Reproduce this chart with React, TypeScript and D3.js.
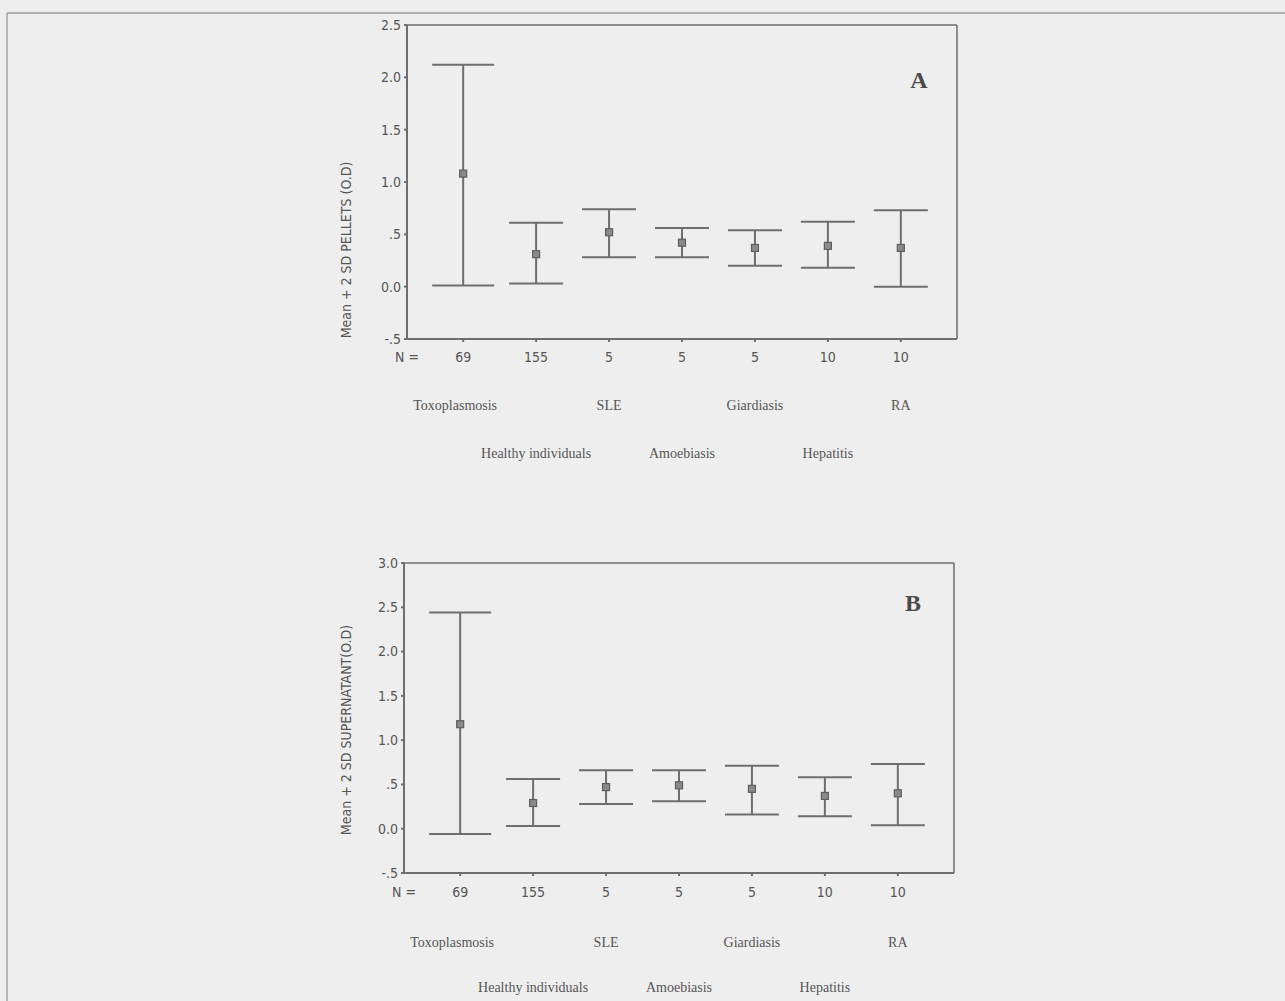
import React from "react";
import * as d3 from "d3";

const categories = ["Toxoplasmosis", "Healthy individuals", "SLE", "Amoebiasis", "Giardiasis", "Hepatitis", "RA"];
const nValues = ["69", "155", "5", "5", "5", "10", "10"];
const yTickValues = [-0.5, 0, 0.5, 1, 1.5, 2, 2.5];
const yTickLabels = ["-.5", "0.0", ".5", "1.0", "1.5", "2.0", "2.5"];
const yTickValuesB = [-0.5, 0, 0.5, 1, 1.5, 2, 2.5, 3];
const yTickLabelsB = ["-.5", "0.0", ".5", "1.0", "1.5", "2.0", "2.5", "3.0"];

// Panel A (pellets)
const meanA = [1.08, 0.31, 0.52, 0.42, 0.37, 0.39, 0.37];
const upperA = [2.12, 0.61, 0.74, 0.56, 0.54, 0.62, 0.73];
const lowerA = [0.01, 0.03, 0.28, 0.28, 0.2, 0.18, 0.0];

// Panel B (supernatant)
const meanB = [1.18, 0.29, 0.47, 0.49, 0.45, 0.37, 0.4];
const upperB = [2.44, 0.56, 0.66, 0.66, 0.71, 0.58, 0.73];
const lowerB = [-0.06, 0.03, 0.28, 0.31, 0.16, 0.14, 0.04];

const INK = "#6e6e6e";
const TXT = "#555555";

type PanelProps = {
  left: number; right: number; top: number; bottom: number;
  domain: [number, number];
  ticks: number[]; tickLabels: string[];
  mean: number[]; upper: number[]; lower: number[];
  letter: string; letterX: number; letterY: number;
  yTitle: string; titleX: number; titleY: number;
  nY: number; row1Y: number; row2Y: number;
};

function Panel(p: PanelProps) {
  const y = d3.scaleLinear().domain(p.domain).range([p.bottom, p.top]);
  const x = d3.scalePoint<string>().domain(categories).range([p.left, p.right]).padding(0.77);
  const cap = 27;
  const fontAxis = "'Liberation Sans Narrow', 'DejaVu Sans Condensed', sans-serif";
  const fontLab = "'Liberation Serif', serif";
  return (
    <g>
      <line x1={p.left} x2={p.right} y1={p.top} y2={p.top} stroke={INK} strokeWidth={1.5} />
      <line x1={p.right} x2={p.right} y1={p.top} y2={p.bottom} stroke={INK} strokeWidth={1.5} />
      <line x1={p.left} x2={p.right} y1={p.bottom} y2={p.bottom} stroke={INK} strokeWidth={2} />
      <line x1={p.left} x2={p.left} y1={p.top} y2={p.bottom} stroke={INK} strokeWidth={2} />
      {p.ticks.map((t, i) => (
        <g key={"yt" + i}>
          <line x1={p.left - 3} x2={p.left} y1={y(t)} y2={y(t)} stroke={INK} strokeWidth={2} />
          <text x={p.left - 6} y={y(t)} dy="0.35em" textAnchor="end" fontSize={14} fill={TXT} fontFamily={fontAxis}>
            {p.tickLabels[i]}
          </text>
        </g>
      ))}
      {categories.map((c) => (
        <line key={"xt" + c} x1={x(c)!} x2={x(c)!} y1={p.bottom} y2={p.bottom + 3} stroke={INK} strokeWidth={2} />
      ))}
      {categories.map((c, i) => {
        const cx = x(c)!;
        const w = i === 0 ? cap + 4 : cap;
        return (
          <g key={"eb" + c}>
            <line x1={cx} x2={cx} y1={y(p.upper[i])} y2={y(p.lower[i])} stroke={INK} strokeWidth={2} />
            <line x1={cx - w} x2={cx + w} y1={y(p.upper[i])} y2={y(p.upper[i])} stroke={INK} strokeWidth={2} />
            <line x1={cx - w} x2={cx + w} y1={y(p.lower[i])} y2={y(p.lower[i])} stroke={INK} strokeWidth={2} />
            <rect x={cx - 3.5} y={y(p.mean[i]) - 3.5} width={7} height={7} fill="#8a8a8a" stroke="#5e5e5e" strokeWidth={1.2} />
          </g>
        );
      })}
      <text x={p.letterX} y={p.letterY} fontSize={24} fontWeight="bold" fill="#4a4a4a" fontFamily={fontLab} textAnchor="middle">
        {p.letter}
      </text>
      <text
        transform={`translate(${p.titleX},${p.titleY}) rotate(-90)`}
        textAnchor="middle"
        fontSize={14}
        fill={TXT}
        fontFamily={fontAxis}
      >
        {p.yTitle}
      </text>
      <text x={p.left} y={p.nY} dy="0.35em" textAnchor="middle" fontSize={14} fill={TXT} fontFamily={fontAxis}>
        N =
      </text>
      {categories.map((c, i) => (
        <text key={"n" + c} x={x(c)!} y={p.nY} dy="0.35em" textAnchor="middle" fontSize={14} fill={TXT} fontFamily={fontAxis}>
          {nValues[i]}
        </text>
      ))}
      {categories.map((c, i) => (
        <text
          key={"c" + c}
          x={x(c)! + (i === 0 ? -8 : 0)}
          y={i % 2 === 0 ? p.row1Y : p.row2Y}
          dy="0.35em"
          textAnchor="middle"
          fontSize={14}
          fill={TXT}
          fontFamily={fontLab}
        >
          {c}
        </text>
      ))}
    </g>
  );
}

export default function App() {
  return (
    <svg width={1285} height={1001} style={{ position: "absolute", left: 0, top: 0, background: "#eeeeee" }}>
      <rect x={0} y={0} width={1285} height={1001} fill="#eeeeee" />
      <line x1={7} x2={1285} y1={13} y2={13} stroke="#9a9a9a" strokeWidth={1.5} />
      <line x1={7} x2={7} y1={13} y2={1001} stroke="#a5a5a5" strokeWidth={1.5} />
      <Panel
        left={407} right={957} top={25} bottom={339}
        domain={[-0.5, 2.5]}
        ticks={yTickValues} tickLabels={yTickLabels}
        mean={meanA} upper={upperA} lower={lowerA}
        letter="A" letterX={919} letterY={88}
        yTitle="Mean + 2 SD PELLETS (O.D)" titleX={351} titleY={250}
        nY={357} row1Y={405} row2Y={453}
      />
      <Panel
        left={404} right={954} top={563} bottom={873}
        domain={[-0.5, 3.0]}
        ticks={yTickValuesB} tickLabels={yTickLabelsB}
        mean={meanB} upper={upperB} lower={lowerB}
        letter="B" letterX={913} letterY={611}
        yTitle="Mean + 2 SD SUPERNATANT(O.D)" titleX={351} titleY={730}
        nY={892} row1Y={942} row2Y={987}
      />
    </svg>
  );
}
